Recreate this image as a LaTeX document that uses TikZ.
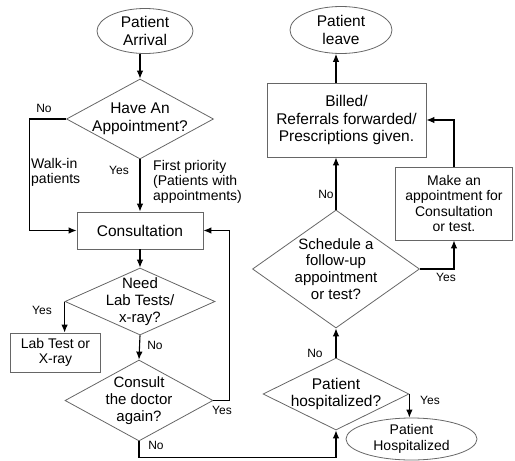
\documentclass[tikz,border=0pt]{standalone}
\usepackage{fontspec}
\setmainfont{Liberation Sans}
\usepackage{tikz}
\usetikzlibrary{positioning}
\usetikzlibrary{calc}
\usetikzlibrary{arrows.meta,shapes,backgrounds}

\tikzset{
  big/.style={font=\fontsize{15.5}{17.5}\selectfont},
  mid/.style={font=\fontsize{15}{16.8}\selectfont},
  small/.style={font=\fontsize{14}{15.5}\selectfont},
  box/.style={draw=black!60, line width=0.8pt, rectangle, inner sep=2pt, align=center},
  decision/.style={draw=black!60, line width=0.8pt, diamond, inner sep=0pt},
  terminal/.style={draw=black!60, line width=0.8pt, ellipse, inner sep=0pt},
  every label/.style={align=center, inner sep=0pt},
  lbl/.style={font=\fontsize{12}{13}\selectfont, inner sep=1pt},
  note/.style={font=\fontsize{14}{15}\selectfont, align=left, inner sep=0pt},
  flow/.style={draw=black, line width=1.1pt, -{Latex[length=8pt,width=6.5pt]}}
}

\begin{document}
\begin{tikzpicture}[x=1pt,y=-1pt]
\useasboundingbox (0,0) rectangle (515,461);

%lewa kolumna
\node[terminal, minimum width=96pt, minimum height=45pt, label={[big]center:{Patient\\Arrival}}] (arrive) at (145,31) {};
\node[decision, minimum width=147pt, minimum height=80pt, label={[big]center:{Have An\\Appointment?}}] (appt) at (140,119) {};
\node[box, big, minimum width=126pt, minimum height=37pt] (consult) at (140,230.5) {Consultation};
\node[decision, minimum width=150pt, minimum height=67pt, label={[mid]center:{Need\\Lab Tests/\\x-ray?}}] (lab) at (140,301.5) {};
\node[box, small, minimum width=90pt, minimum height=39pt] (labtest) at (55.5,352.5) {Lab Test or\\X-ray};
\node[decision, minimum width=148pt, minimum height=81pt, label={[mid]center:{Consult\\the doctor\\again?}}] (again) at (139,400.5) {};

%prawa kolumna
\node[terminal, minimum width=102pt, minimum height=47pt, label={[big]center:{Patient\\leave}}] (leave) at (341,30) {};
\node[box, big, minimum width=159pt, minimum height=74pt] (billed) at (346.5,120) {Billed/\\Referrals forwarded/\\Prescriptions given.};
\node[box, small, minimum width=117pt, minimum height=73pt] (makeapp) at (454,203.5) {Make an\\appointment for\\Consultation\\or test.};
\node[decision, minimum width=167pt, minimum height=118pt, label={[mid]center:{Schedule a\\follow-up\\appointment\\or test?}}] (sched) at (336,269) {};
\node[decision, minimum width=146pt, minimum height=72pt, label={[big]center:{Patient\\hospitalized?}}] (hosp) at (336,394) {};
\node[terminal, minimum width=131pt, minimum height=42pt, label={[small]center:{Patient\\Hospitalized}}] (hospd) at (411.5,439) {};

%polaczenia
\draw[flow] (arrive.south -| appt.north) -- (appt.north);
\draw[flow] (appt.west) -- ++(-37,0) |- (consult.west);
\draw[flow] (appt.south) -- (consult.north);
\draw[flow] (consult.south) -- (lab.north);
\draw[flow] (lab.west) -- (lab.west |- labtest.north);
\draw[flow] (lab.south) -- (again.north);
\draw[flow] (again.east) -- ++(16,0) |- (consult.east);
\draw[flow] (again.south) -- ++(0,16) -| (hosp.south);
\draw[flow] (hosp.east) -- (hosp.east |- hospd.north);
\draw[flow] (hosp.north) -- (sched.south);
\draw[flow] (sched.east) -| (makeapp.south);
\draw[flow] (makeapp.north) |- (billed.east);
\draw[flow] (sched.north) -- (sched.north |- billed.south);
\draw[flow] (billed.north -| sched.north) -- (leave.south -| sched.north);

%opisy
\node[lbl] (noappt) at (44,108) {No};
\node[note, anchor=north west] (walkin) at (31,158) {Walk-in\\patients};
\node[lbl] (yesappt) at (119,170) {Yes};
\node[note, anchor=north west] (first) at (153,160) {First priority\\(Patients with\\appointments)};
\node[lbl] (yeslab) at (42,310) {Yes};
\node[lbl] (nolab) at (155,345) {No};
\node[lbl] (yesagain) at (222,410) {Yes};
\node[lbl] (noagain) at (156,445) {No};
\node[lbl] (yeshosp) at (430,400) {Yes};
\node[lbl] (nohosp) at (315,353) {No};
\node[lbl] (yessched) at (446,277) {Yes};
\node[lbl] (nosched) at (326,194) {No};

%end
\end{tikzpicture}
\end{document}
